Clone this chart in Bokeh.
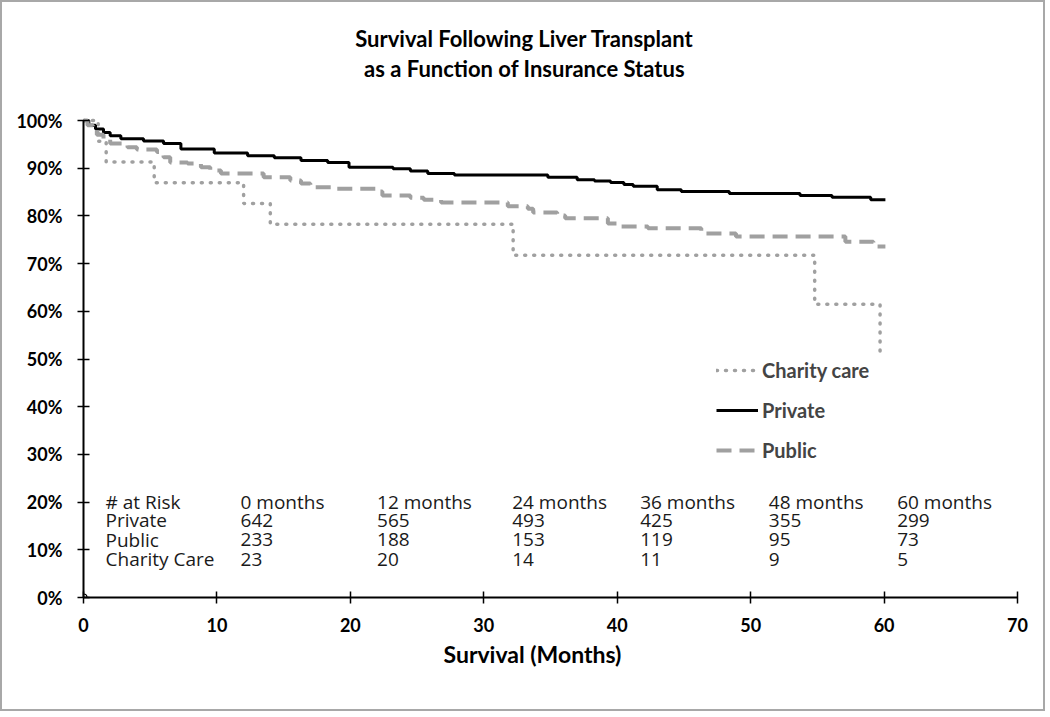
from bokeh.plotting import figure
from bokeh.models import Range1d, FixedTicker, NumeralTickFormatter, Legend, LegendItem, Title
from bokeh.core.properties import value
from bokeh.embed import file_html
from bokeh.resources import INLINE

# ---------------- data ----------------
month_ticks = [0, 10, 20, 30, 40, 50, 60, 70]
pct_ticks = [0.0, 0.1, 0.2, 0.3, 0.4, 0.5, 0.6, 0.7, 0.8, 0.9, 1.0]

private_t = [0, 0.4, 0.9, 1.5, 2.0, 2.8, 4.5, 6.0, 7.3, 9.8, 12.3, 14.3, 16.3, 18.3,
             19.9, 23.2, 24.5, 25.8, 27.8, 34.8, 37.0, 38.3, 39.5, 40.5, 41.2, 43.0,
             44.8, 48.4, 53.7, 56.1, 59.0, 60.1]
private_s = [1.000, 0.990, 0.982, 0.975, 0.968, 0.962, 0.957, 0.952, 0.940, 0.932, 0.926,
             0.922, 0.916, 0.912, 0.902, 0.899, 0.894, 0.889, 0.886, 0.881, 0.876, 0.873,
             0.870, 0.866, 0.862, 0.855, 0.851, 0.847, 0.843, 0.839, 0.834, 0.834]

public_t = [0, 0.3, 0.7, 1.0, 1.5, 2.0, 3.3, 4.0, 5.5, 6.0, 6.5, 7.8, 8.8, 9.5, 10.3,
            13.5, 15.5, 16.3, 17.0, 18.7, 21.9, 22.4, 24.5, 25.5, 26.8, 31.8, 33.3, 33.7,
            35.5, 36.1, 39.3, 40.0, 42.3, 46.3, 48.9, 57.1, 59.2, 60.1]
public_s = [1.000, 0.990, 0.980, 0.970, 0.960, 0.952, 0.944, 0.939, 0.934, 0.923, 0.912,
            0.910, 0.902, 0.895, 0.889, 0.881, 0.874, 0.868, 0.860, 0.857, 0.851, 0.843,
            0.838, 0.834, 0.828, 0.820, 0.815, 0.807, 0.801, 0.795, 0.784, 0.778, 0.774,
            0.763, 0.757, 0.746, 0.736, 0.736]

charity_t = [0, 1.1, 1.7, 5.3, 12.0, 14.0, 32.2, 54.8, 59.7]
charity_s = [1.000, 0.9565, 0.9130, 0.8696, 0.8261, 0.7826, 0.7174, 0.6149, 0.5124]

title_lines = ["Survival Following Liver Transplant", "as a Function of Insurance Status"]
x_title = "Survival (Months)"
risk_header = ["# at Risk", "0 months", "12 months", "24 months", "36 months", "48 months", "60 months"]
risk_private = ["Private", "642", "565", "493", "425", "355", "299"]
risk_public = ["Public", "233", "188", "153", "119", "95", "73"]
risk_charity = ["Charity Care", "23", "20", "14", "11", "9", "5"]

# ---------------- layout / style ----------------
BOLD = "Lato"
GRAY = "#a0a0a0"
PX_X = 934 / 70.0      # pixels per month
PX_Y = 477.0           # pixels per unit survival
FRAME_H = 585
Y_TOP = FRAME_H / PX_Y

def ref_y(py):
    """reference pixel row -> data y"""
    return (597 - py) / PX_Y

p = figure(width=1045, height=711, output_backend="svg", toolbar_location=None,
           x_range=Range1d(0, 70), y_range=Range1d(0, Y_TOP),
           min_border_left=81, min_border_right=30, min_border_top=10, min_border_bottom=116)
p.styles = {"border": "2px solid #a8a8a8"}
p.outline_line_color = None
p.grid.visible = False
p.title.visible = False

for ax in (p.xaxis[0], p.yaxis[0]):
    ax.axis_line_width = 2
    ax.axis_line_color = "black"
    ax.major_tick_line_width = 1.5
    ax.major_tick_line_color = "black"
    ax.major_tick_in = 6
    ax.major_tick_out = 6
    ax.minor_tick_line_color = None
    ax.major_label_text_font = BOLD
    ax.major_label_text_font_style = "bold"
    ax.major_label_text_font_size = "18px"
    ax.major_label_text_color = "black"

p.xaxis.ticker = FixedTicker(ticks=month_ticks)
p.xaxis.bounds = (0, 70)
p.xaxis.major_label_standoff = 14

p.yaxis.ticker = FixedTicker(ticks=pct_ticks)
p.yaxis.bounds = (0, 1)
p.yaxis.formatter = NumeralTickFormatter(format="0%")
p.yaxis.major_label_standoff = 15

p.add_layout(Title(text=x_title, align="left", offset=360, standoff=6,
                   text_font=BOLD, text_font_style="bold", text_font_size="23px",
                   text_color="black"), "below")

# chart title, drawn inside the (tall) frame above the 100% line
title_cx = (524 - 83) / PX_X
p.text(x=[title_cx, title_cx], y=[ref_y(38), ref_y(68)], text=title_lines,
       text_font=value(BOLD), text_font_style="bold", text_font_size="22px",
       text_align="center", text_baseline="middle", text_color="black")

r_ch = p.step(charity_t, charity_s, mode="after", line_color=GRAY, line_width=3.5,
              line_dash="1 8", line_cap="round")
r_pr = p.step(private_t, private_s, mode="after", line_color="black", line_width=3)
r_pu = p.step(public_t, public_s, mode="after", line_color=GRAY, line_width=4,
              line_dash="15 8")
p.scatter([0], [0], size=7, marker="circle", fill_color="white", line_color="black", line_width=1.2)

legend = Legend(items=[LegendItem(label="Charity care", renderers=[r_ch]),
                       LegendItem(label="Private", renderers=[r_pr]),
                       LegendItem(label="Public", renderers=[r_pu])],
                location=(633, 135))
legend.border_line_color = None
legend.background_fill_alpha = 0
legend.label_text_font = BOLD
legend.label_text_font_style = "bold"
legend.label_text_font_size = "20px"
legend.glyph_width = 42
legend.glyph_height = 24
legend.label_height = 24
legend.spacing = 16
legend.padding = 0
legend.margin = 0
legend.label_standoff = 4
p.add_layout(legend)

# at-risk table
col_x = [1.65, 11.77, 22.0, 32.13, 41.72, 51.36, 60.98]
row_px = [501, 519.5, 539, 558.5]   # reference pixel rows
for row, py in zip([risk_header, risk_private, risk_public, risk_charity], row_px):
    p.text(x=col_x, y=[ref_y(py)] * len(row), text=row, text_font=value("Open Sans"),
           text_font_size="19px", text_baseline="middle", text_align="left",
           text_color="#1a1a1a")

open("out.html", "w").write(file_html(p, INLINE))
